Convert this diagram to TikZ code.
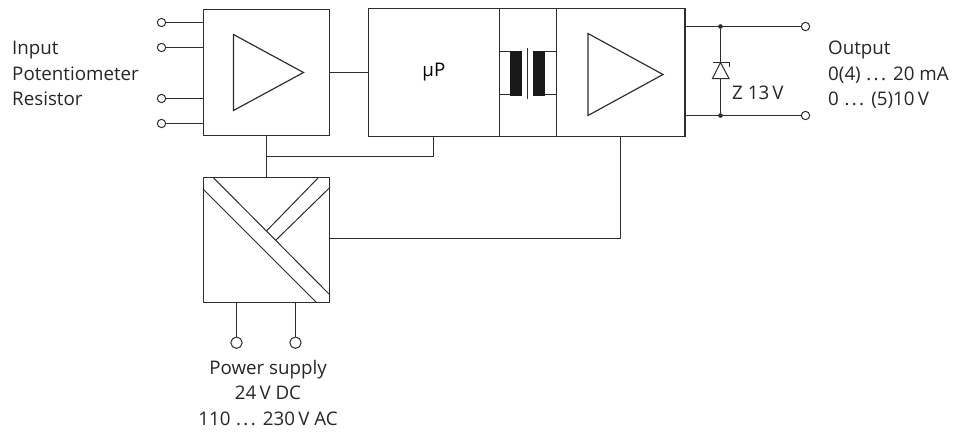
\documentclass[tikz,border=0pt]{standalone}
\usepackage{fontspec}
\setmainfont{Open Sans}
\usetikzlibrary{positioning,calc}
\definecolor{wirecol}{RGB}{45,45,45}
\tikzset{
  blockbox/.style={rectangle,draw=wirecol,fill=white,inner sep=0pt,line width=0.35mm},
  wire/.style={draw=wirecol,line width=0.35mm},
  thinwire/.style={draw=wirecol,line width=0.3mm},
  termnode/.style={circle,draw=wirecol,fill=white,line width=0.3mm,inner sep=0pt,minimum size=0.25cm},
  bigterm/.style={termnode,minimum size=0.34cm},
  dotnode/.style={circle,fill=wirecol,inner sep=0pt,minimum size=0.14cm},
  labelnode/.style={align=left,anchor=north west,inner sep=0pt,font=\fontsize{16}{21.7}\selectfont,text=black!85},
  corenode/.style={rectangle,fill=black!90,inner sep=0pt,minimum width=0.36cm,minimum height=1.35cm}
}
\newcommand{\wdots}{\kern0.6pt.\kern2pt.\kern2pt.\kern0.6pt}
\begin{document}
\begin{tikzpicture}[x=0.03cm,y=-0.03cm]
  \useasboundingbox (0,0) rectangle (954,434);
  %% Main row of blocks
  \node[blockbox,minimum width=3.8cm,minimum height=3.78cm] (inbox) at (266.5,72.5) {};
  \node[blockbox,minimum width=3.93cm,minimum height=3.84cm,right=1.12cm of inbox.east,anchor=west] (cpubox) {\fontsize{16}{18}\selectfont µP};
  \node[blockbox,minimum width=1.72cm,minimum height=3.84cm,right=-0.035cm of cpubox] (isobox) {};
  \node[blockbox,minimum width=3.85cm,minimum height=3.84cm,right=-0.035cm of isobox] (ampbox) {};
  \node[blockbox,minimum width=3.8cm,minimum height=3.73cm] (psbox) at (266.5,240) {};

  %% Input terminals
  \foreach \i/\y in {1/22.5,2/47.5,3/98.5,4/123.5} {
    \node[termnode] (in\i) at (161.5,\y) {};
    \draw[wire] (in\i) -- (in\i -| inbox.west);
  }
  \draw[wire] (inbox.east) -- (inbox.east -| cpubox.west);

  %% Amplifier triangles
  \draw[wire] (233.5,34.5) -- (303.5,72.5) -- (233.5,110.5) -- cycle;
  \draw[wire] (588,33.5) -- (663,74.5) -- (588,115.5) -- cycle;

  %% Transformer
  \node[corenode] (coreA) at (516,73.5) {};
  \node[corenode] (coreB) at (539,73.5) {};
  \coordinate (coreTop) at (527.5,48);
  \coordinate (coreBot) at (527.5,99);
  \draw[thinwire] (coreTop) -- (coreBot);
  \draw[wire] (isobox.west |- 0,51.5) -- (coreA.west |- 0,51.5);
  \draw[wire] (isobox.west |- 0,94.5) -- (coreA.west |- 0,94.5);
  \draw[wire] (isobox.east |- 0,51.5) -- (coreB.east |- 0,51.5);
  \draw[wire] (isobox.east |- 0,94.5) -- (coreB.east |- 0,94.5);

  %% Output side
  \node[termnode] (outA) at (805.5,26.5) {};
  \node[termnode] (outB) at (805.5,115.5) {};
  \node[dotnode] (dotA) at (720.5,26.5) {};
  \node[dotnode] (dotB) at (720.5,115.5) {};
  \draw[wire] (outA -| ampbox.east) -- (outA);
  \draw[wire] (outB -| ampbox.east) -- (outB);
  \draw[wire] (dotA) -- (dotB);
  \draw[thinwire,fill=white] (712.5,78.5) -- (729,78.5) -- (720.5,62.5) -- cycle;
  \draw[thinwire] (729,66.5) -- (729,62.5) -- (712.5,62.5);

  %% Supply block
  \draw[wire] (inbox.south) -- (psbox.north);
  \coordinate (tapA) at (266.5,156.5);
  \draw[wire] (tapA) -| (433.5,136);
  \coordinate (ampDrop) at (620.5,136);
  \coordinate (psTap) at (330,238.5);
  \draw[wire] (psTap) -| (ampDrop);
  \draw[thinwire] (203,189) -- (316,302);
  \draw[thinwire] (213.7,178) -- (330,295);
  \draw[thinwire] (318,178) -- (266.7,230.7);
  \draw[thinwire] (330,187.3) -- (276,240);
  \node[bigterm] (psA) at (236.5,342.7) {};
  \node[bigterm] (psB) at (295.5,342.7) {};
  \draw[wire] (psA) -- (psA |- psbox.south);
  \draw[wire] (psB) -- (psB |- psbox.south);

  %% Texts
  \node[labelnode] (inlabel) at (12,41) {Input\\Potentiometer\\Resistor};
  \node[labelnode] (outlabel) at (828,41) {Output\\0(4) \wdots{} 20 mA\\0 \wdots{} (5)10\,V};
  \node[labelnode,align=center,anchor=north] (pslabel) at (268,360) {Power supply\\24\,V DC\\110 \wdots{} 230\,V AC};
  \node[anchor=west,inner sep=0pt,font=\fontsize{16}{18}\selectfont,text=black!85] (zlabel) at (732,93) {Z 13\,V};
\end{tikzpicture}
\end{document}
